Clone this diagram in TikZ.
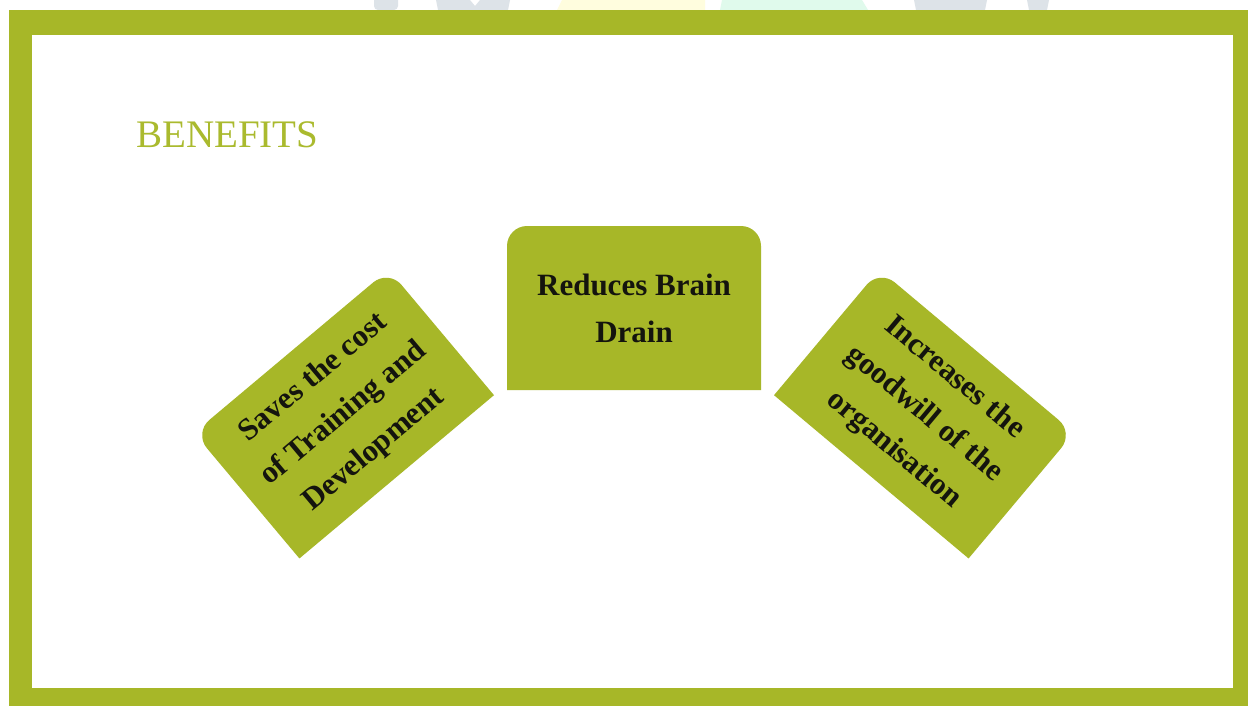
\documentclass[tikz,border=0pt]{standalone}
\usepackage{fontspec}
\setmainfont{Liberation Serif}
\begin{document}
\begin{tikzpicture}[x=1pt,y=-1pt,
  boxfill/.style={fill=olive1},
  boxtext/.style={text=inkdark, align=center, inner sep=0pt,
    font=\fontsize{31}{47}\selectfont\bfseries},
  wmgray/.style={fill=wmgrey},
]
\definecolor{olive1}{RGB}{167,183,40}
\definecolor{titlegreen}{RGB}{170,186,46}
\definecolor{inkdark}{RGB}{20,20,14}
\definecolor{wmgrey}{RGB}{221,227,232}
\definecolor{wmyellow}{RGB}{255,253,222}
\definecolor{wmmint}{RGB}{224,250,236}
\useasboundingbox (0,0) rectangle (1248,706);
\fill[white] (0,0) rectangle (1248,706);

% faint logo peeking above the frame
\fill[wmgray, rounded corners=4pt] (374,-6) rectangle (398,10);
\fill[wmgray] (436,0) -- (470,0) -- (475,6) -- (480,0) -- (510,0) -- (508,10) -- (438,10) -- cycle;
\fill[wmyellow] (562,0) -- (705,0) -- (705,10) -- (557,10) -- cycle;
\fill[wmmint] (722,0) -- (862,0) -- (868,10) -- (720,10) -- cycle;
\fill[wmgray] (914,0) -- (987,0) -- (985,10) -- (916,10) -- cycle;
\fill[wmgray] (1027,0) -- (1049,0) -- (1047,10) -- (1029,10) -- cycle;

% slide frame
\fill[olive1] (9,10) rectangle (1248,706);
\fill[white] (32,35) rectangle (1233,688);

% heading
\node[anchor=base west, inner sep=0pt, text=titlegreen,
  font=\fontsize{39}{44}\selectfont] (title) at (136,148) {BENEFITS};

% left card
\begin{scope}[shift={(344,414)}, rotate=40]
  \path[boxfill] (-127,82) -- (-127,0) [rounded corners=20pt] -- (-127,-82) -- (127,-82) -- (127,0) [sharp corners] -- (127,82) -- cycle;
  \node[boxtext, rotate=40] (saves) at (0,0) {Saves the cost\\of Training and\\Development};
\end{scope}

% middle card
\begin{scope}[shift={(634,308)}]
  \path[boxfill] (-127,82) -- (-127,0) [rounded corners=20pt] -- (-127,-82) -- (127,-82) -- (127,0) [sharp corners] -- (127,82) -- cycle;
  \node[boxtext] (brain) at (0,0) {Reduces Brain\\Drain};
\end{scope}

% right card
\begin{scope}[shift={(924,414)}, rotate=-40]
  \path[boxfill] (-127,82) -- (-127,0) [rounded corners=20pt] -- (-127,-82) -- (127,-82) -- (127,0) [sharp corners] -- (127,82) -- cycle;
  \node[boxtext, rotate=-40] (goodwill) at (0,0) {Increases the\\goodwill of the\\organisation};
\end{scope}
\end{tikzpicture}
\end{document}
